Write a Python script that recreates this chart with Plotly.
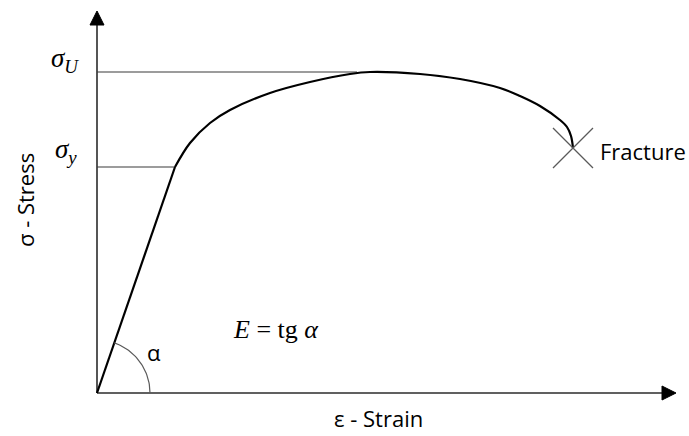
import numpy as np
import plotly.graph_objects as go

# Engineering stress-strain curve (arbitrary units)
sigma_y = 226          # yield strength
sigma_u = 321          # ultimate strength
eps_y = 78             # strain at yield

# plastic region: from yield point through the ultimate strength down to fracture
strain_plastic = [78, 93, 113, 133, 173, 213, 253, 273, 323, 363, 403, 423, 443, 463, 470, 474, 476]
stress_plastic = [226, 250, 270, 283, 300, 311, 319, 321, 319, 314, 305, 297, 287, 273, 266, 257, 245]

strain_max = 579      # end of strain axis
stress_max = 382      # end of stress axis

AXIS = "#2b2b2b"
GUIDE = "#3a3a3a"
THIN = "#5a5a5a"

fig = go.Figure()

# axes
fig.add_trace(go.Scatter(x=[0, strain_max - 14], y=[0, 0], mode="lines",
                         line=dict(color=AXIS, width=1.6), hoverinfo="skip"))
fig.add_trace(go.Scatter(x=[0, 0], y=[0, stress_max - 14], mode="lines",
                         line=dict(color=AXIS, width=1.6), hoverinfo="skip"))

# arrow heads
head = 14
half = 7
fig.add_trace(go.Scatter(x=[strain_max, strain_max - head, strain_max - head, strain_max],
                         y=[0, half, -half, 0], mode="lines", fill="toself",
                         fillcolor="black", line=dict(color="black", width=1), hoverinfo="skip"))
fig.add_trace(go.Scatter(x=[0, -half, half, 0],
                         y=[stress_max, stress_max - head, stress_max - head, stress_max],
                         mode="lines", fill="toself", fillcolor="black",
                         line=dict(color="black", width=1), hoverinfo="skip"))

# guide lines for yield and ultimate strength
fig.add_trace(go.Scatter(x=[0, eps_y], y=[sigma_y, sigma_y], mode="lines",
                         line=dict(color=GUIDE, width=1.2), hoverinfo="skip"))
fig.add_trace(go.Scatter(x=[0, 260], y=[sigma_u, sigma_u], mode="lines",
                         line=dict(color=GUIDE, width=1.2), hoverinfo="skip"))

# elastic region
fig.add_trace(go.Scatter(x=[0, eps_y], y=[0, sigma_y], mode="lines",
                         line=dict(color="black", width=2.2), hoverinfo="skip"))

# plastic region
fig.add_trace(go.Scatter(x=strain_plastic, y=stress_plastic, mode="lines",
                         line=dict(color="black", width=2.2, shape="spline", smoothing=1.0),
                         hoverinfo="skip"))

# angle arc of the elastic slope
alpha = np.arctan2(sigma_y, eps_y)
t = np.linspace(0, alpha, 40)
r = 53
fig.add_trace(go.Scatter(x=r * np.cos(t), y=r * np.sin(t), mode="lines",
                         line=dict(color=THIN, width=1.2), hoverinfo="skip"))

# fracture mark
fig.add_trace(go.Scatter(x=[strain_plastic[-1]], y=[stress_plastic[-1]], mode="markers",
                         marker=dict(symbol="x-thin", size=40,
                                     line=dict(color=THIN, width=1.3)),
                         hoverinfo="skip"))

SANS = "Open Sans"
SERIF = "Liberation Serif"
ann = [
    dict(x=strain_plastic[-1] + 25, y=stress_plastic[-1] - 3, text="Fracture",
         xanchor="left", yanchor="middle", font=dict(family=SANS, size=22, color="black")),
    dict(x=281, y=-25, text="ε - Strain", xanchor="center", yanchor="middle",
         font=dict(family=SANS, size=22, color="black")),
    dict(x=-72, y=193, text="σ - Stress", textangle=-90, xanchor="center", yanchor="middle",
         font=dict(family=SANS, size=22, color="black")),
    dict(x=57, y=41, text="α", xanchor="center", yanchor="middle",
         font=dict(family=SANS, size=22, color="black")),
    dict(x=179, y=64, text="<i>E</i> = tg <i>α</i>", xanchor="center", yanchor="middle",
         font=dict(family=SERIF, size=26, color="black")),
    dict(x=-16, y=sigma_u + 12, text="<i>σ</i><sub><i>U</i></sub>", xanchor="right",
         yanchor="middle", font=dict(family=SERIF, size=27, color="black")),
    dict(x=-18, y=sigma_y + 16, text="<i>σ</i><sub><i>y</i></sub>", xanchor="right",
         yanchor="middle", font=dict(family=SERIF, size=27, color="black")),
]
for a in ann:
    a.update(xref="x", yref="y", showarrow=False)

fig.update_layout(
    width=689, height=436,
    margin=dict(l=0, r=0, t=0, b=0),
    paper_bgcolor="white", plot_bgcolor="white",
    showlegend=False,
    annotations=ann,
    xaxis=dict(range=[-97, 592], visible=False, fixedrange=True),
    yaxis=dict(range=[-43, 393], visible=False, fixedrange=True),
)

fig.write_html("out.html")
